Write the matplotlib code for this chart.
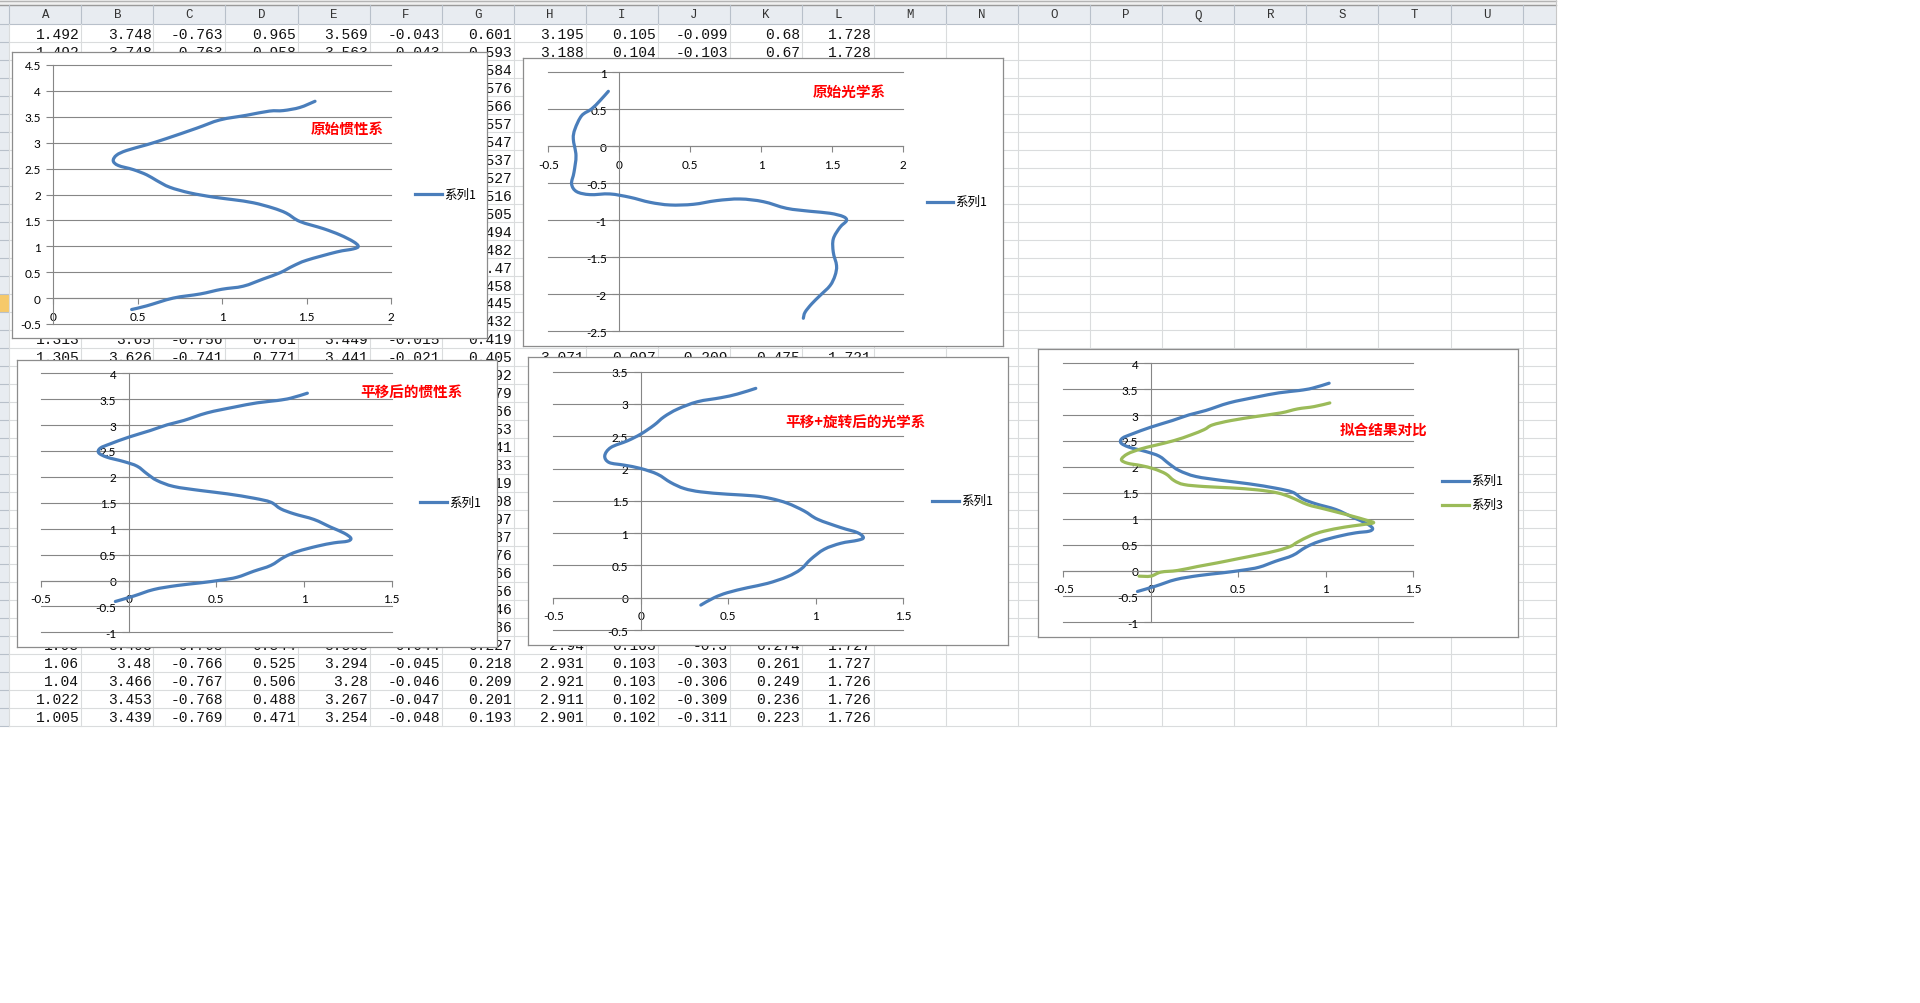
import numpy as np
import matplotlib
matplotlib.use('Agg')
import matplotlib.pyplot as plt
from matplotlib.path import Path
from matplotlib.patches import PathPatch

W, H = 1920, 1004
fig = plt.figure(figsize=(W / 100, H / 100), dpi=100)

# ---------------- sheet contents ----------------
col_letters = list("ABCDEFGHIJKLMNOPQRSTUV")

row_01 = ["1.492", "3.748", "-0.763", "0.965", "3.569", "-0.043", "0.601", "3.195", "0.105", "-0.099", "0.68", "1.728"]
row_02 = ["1.492", "3.748", "-0.763", "0.958", "3.563", "-0.043", "0.593", "3.188", "0.104", "-0.103", "0.67", "1.728"]
row_18 = ["1.313", "3.65", "-0.756", "0.781", "3.449", "-0.015", "0.419"]
row_19 = ["1.305", "3.626", "-0.741", "0.771", "3.441", "-0.021", "0.405", "3.071", "0.097", "-0.209", "0.475", "1.721"]
row_35 = ["1.08", "3.493", "-0.765", "0.544", "3.308", "-0.044", "0.227", "2.94", "0.103", "-0.3", "0.274", "1.727"]
row_36 = ["1.06", "3.48", "-0.766", "0.525", "3.294", "-0.045", "0.218", "2.931", "0.103", "-0.303", "0.261", "1.727"]
row_37 = ["1.04", "3.466", "-0.767", "0.506", "3.28", "-0.046", "0.209", "2.921", "0.103", "-0.306", "0.249", "1.726"]
row_38 = ["1.022", "3.453", "-0.768", "0.488", "3.267", "-0.047", "0.201", "2.911", "0.102", "-0.309", "0.236", "1.726"]
row_39 = ["1.005", "3.439", "-0.769", "0.471", "3.254", "-0.048", "0.193", "2.901", "0.102", "-0.311", "0.223", "1.726"]
# column G, rows 3-17 and 20-34 (the rest of those rows sits under the charts)
col_g_03_17 = ["0.584", "0.576", "0.566", "0.557", "0.547", "0.537", "0.527", "0.516",
               "0.505", "0.494", "0.482", "0.47", "0.458", "0.445", "0.432"]
col_g_20_34 = ["0.392", "0.379", "0.366", "0.353", "0.341", "0.333", "0.319", "0.308",
               "0.297", "0.287", "0.276", "0.266", "0.256", "0.246", "0.236"]

# ---------------- chart series ----------------
# 原始惯性系
c1_x = [0.464, 0.553, 0.71, 0.87, 0.997, 1.125, 1.244, 1.343, 1.42, 1.5, 1.678, 1.777, 1.806, 1.777,
        1.698, 1.6, 1.46, 1.38, 1.30, 1.185, 1.066, 0.948, 0.81, 0.69, 0.612, 0.553, 0.474, 0.385,
        0.355, 0.375, 0.434, 0.553, 0.67, 0.849, 0.987, 1.145, 1.28, 1.362, 1.46, 1.55]
c1_y = [-0.22, -0.15, 0.0, 0.08, 0.17, 0.23, 0.37, 0.49, 0.62, 0.73, 0.89, 0.95, 1.0, 1.09,
        1.22, 1.34, 1.48, 1.64, 1.74, 1.84, 1.90, 1.95, 2.03, 2.14, 2.27, 2.38, 2.48, 2.56,
        2.65, 2.76, 2.85, 2.96, 3.08, 3.28, 3.44, 3.53, 3.61, 3.62, 3.68, 3.80]

# 原始光学系
c2_x = [-0.077, -0.136, -0.195, -0.265, -0.312, -0.324, -0.305, -0.319, -0.336, -0.30, -0.207,
        -0.066, 0.075, 0.216, 0.357, 0.521, 0.685, 0.85, 1.014, 1.178, 1.343, 1.484, 1.577, 1.60,
        1.554, 1.507, 1.507, 1.53, 1.519, 1.484, 1.413, 1.354, 1.308, 1.296]
c2_y = [0.743, 0.617, 0.505, 0.414, 0.234, 0.099, -0.126, -0.351, -0.509, -0.613, -0.653,
        -0.644, -0.689, -0.757, -0.793, -0.784, -0.734, -0.712, -0.748, -0.838, -0.878, -0.905,
        -0.95, -1.005, -1.095, -1.252, -1.432, -1.613, -1.748, -1.883, -2.018, -2.131, -2.243, -2.324]

# 平移后的惯性系 (also 系列1 of 拟合结果对比)
c3_x = [-0.076, 0.029, 0.143, 0.276, 0.41, 0.524, 0.619, 0.714, 0.81, 0.886, 0.962, 1.076, 1.171,
        1.248, 1.267, 1.229, 1.152, 1.057, 0.943, 0.867, 0.81, 0.714, 0.562, 0.41, 0.257, 0.162,
        0.105, 0.048, -0.029, -0.124, -0.171, -0.162, -0.105, 0.0, 0.124, 0.219, 0.314, 0.448,
        0.60, 0.733, 0.848, 0.924, 1.019]
c3_y = [-0.405, -0.30, -0.174, -0.097, -0.045, 0.006, 0.064, 0.18, 0.29, 0.45, 0.56, 0.663, 0.727,
        0.759, 0.817, 0.914, 1.03, 1.178, 1.287, 1.384, 1.512, 1.589, 1.673, 1.737, 1.815, 1.93,
        2.059, 2.207, 2.297, 2.381, 2.465, 2.555, 2.638, 2.767, 2.896, 3.005, 3.089, 3.237,
        3.346, 3.43, 3.475, 3.52, 3.616]

# 平移+旋转后的光学系
c4_x = [0.343, 0.419, 0.495, 0.61, 0.724, 0.838, 0.914, 0.971, 1.048, 1.143, 1.238, 1.272, 1.238,
        1.143, 1.01, 0.933, 0.838, 0.743, 0.648, 0.495, 0.343, 0.248, 0.171, 0.095, 0.0, -0.095,
        -0.181, -0.206, -0.171, -0.076, 0.0, 0.076, 0.133, 0.21, 0.324, 0.457, 0.552, 0.657]
c4_y = [-0.114, 0.0, 0.078, 0.155, 0.222, 0.326, 0.44, 0.595, 0.75, 0.843, 0.889, 0.93, 1.008,
        1.086, 1.215, 1.344, 1.463, 1.536, 1.577, 1.603, 1.639, 1.691, 1.784, 1.913, 2.001, 2.053,
        2.094, 2.198, 2.327, 2.43, 2.534, 2.673, 2.802, 2.921, 3.035, 3.097, 3.154, 3.242]

# 拟合结果对比 - 系列3
c5_x = [-0.067, 0.0, 0.057, 0.152, 0.267, 0.381, 0.495, 0.61, 0.724, 0.80, 0.838, 0.914, 0.99,
        1.105, 1.20, 1.272, 1.238, 1.124, 0.99, 0.895, 0.80, 0.724, 0.61, 0.457, 0.305, 0.19,
        0.133, 0.086, 0.019, -0.057, -0.133, -0.168, -0.133, -0.057, 0.019, 0.133, 0.229, 0.305,
        0.352, 0.457, 0.61, 0.743, 0.838, 0.933, 1.023]
c5_y = [-0.109, -0.109, -0.032, 0.0, 0.077, 0.148, 0.225, 0.302, 0.386, 0.469, 0.547, 0.675, 0.759,
        0.836, 0.881, 0.92, 0.965, 1.074, 1.19, 1.273, 1.415, 1.498, 1.556, 1.595, 1.621, 1.659,
        1.736, 1.865, 1.961, 2.026, 2.071, 2.14, 2.251, 2.347, 2.412, 2.508, 2.617, 2.72, 2.81,
        2.894, 2.977, 3.042, 3.119, 3.164, 3.235]

BLUE = '#4A7EBB'
GREEN = '#9BBB59'
GRID = '#868686'
CELL_LINE = '#DADCDD'

# ---------------- sheet background ----------------
bg = fig.add_axes([0, 0, 1, 1])
bg.set_xlim(0, W)
bg.set_ylim(H, 0)
bg.axis('off')

row_h = 17.98
top = 25.3
col_w = 72.06
left = 9.3
sheet_r = 1556
n_rows = 39
sheet_b = top + n_rows * row_h

bg.fill_between([0, sheet_r], 0, 6, color='#F0F0F0', lw=0)
bg.plot([0, sheet_r], [1.5, 1.5], color='#B4B4B4', lw=1)
bg.plot([0, sheet_r], [5.5, 5.5], color='#9A9A9A', lw=1)
bg.fill_between([0, sheet_r], 6, top, color='#E8ECF1', lw=0)
bg.fill_between([0, left], top, sheet_b, color='#E8ECF1', lw=0)
bg.fill_between([0, left], top + 15 * row_h, top + 16 * row_h, color='#F6C96A', lw=0)

for k in range(1, n_rows + 1):
    y = top + k * row_h
    bg.plot([0, left], [y, y], color='#B8C0CA', lw=0.8)
    bg.plot([left, sheet_r], [y, y], color=CELL_LINE, lw=0.8)
bg.plot([0, sheet_r], [top, top], color='#B8C0CA', lw=0.8)
for k, letter in enumerate(col_letters):
    x = left + k * col_w
    bg.plot([x, x], [6, top], color='#B8C0CA', lw=0.8)
    bg.plot([x, x], [top, sheet_b], color=CELL_LINE, lw=0.8)
    if x + col_w / 2 < sheet_r:
        bg.text(x + col_w / 2, 15.5, letter, ha='center', va='center', fontsize=9,
                family='Liberation Mono', color='#333333')
bg.plot([sheet_r, sheet_r], [0, sheet_b], color='#C8C8C8', lw=0.8)

def put_row(row_no, values, first_col=0):
    y = top + (row_no - 0.5) * row_h + 0.5
    for j, v in enumerate(values):
        xr = left + (first_col + j + 1) * col_w - 2
        bg.text(xr, y, v, ha='right', va='center', fontsize=10.5,
                family='Liberation Mono', color='#111111')

for r, vals in [(1, row_01), (2, row_02), (18, row_18), (19, row_19), (35, row_35),
                (36, row_36), (37, row_37), (38, row_38), (39, row_39)]:
    put_row(r, vals)
for i, v in enumerate(col_g_03_17):
    put_row(3 + i, [v], first_col=6)
for i, v in enumerate(col_g_20_34):
    put_row(20 + i, [v], first_col=6)

# ---------------- charts ----------------
def px_box(x0, y0, x1, y1):
    return [x0 / W, 1 - y1 / H, (x1 - x0) / W, (y1 - y0) / H]

def fmt(v):
    return '%g' % round(v, 3)

def smooth_path(xs, ys):
    # Excel style "smoothed line": Catmull-Rom segments as cubic Beziers
    p = np.column_stack([xs, ys])
    ext = np.vstack([p[0], p, p[-1]])
    verts = [p[0]]
    codes = [Path.MOVETO]
    for i in range(len(p) - 1):
        p0, p1, p2, p3 = ext[i], ext[i + 1], ext[i + 2], ext[i + 3]
        verts += [p1 + (p2 - p0) / 6, p2 - (p3 - p1) / 6, p2]
        codes += [Path.CURVE4] * 3
    return Path(verts, codes)

def chart(frame, plot, xlim, ylim, lines, names, legend_x, legend_y, title, title_xy):
    fr = fig.add_axes(px_box(*frame))
    fr.set_xlim(frame[0], frame[2])
    fr.set_ylim(frame[3], frame[1])
    fr.set_xticks([])
    fr.set_yticks([])
    fr.set_facecolor('white')
    for s in fr.spines.values():
        s.set_color('#8C8C8C')
        s.set_linewidth(0.9)

    ax = fig.add_axes(px_box(*plot))
    ax.patch.set_visible(False)
    ax.set_xlim(*xlim)
    ax.set_ylim(*ylim)
    xt = np.arange(xlim[0], xlim[1] + 1e-9, 0.5)
    yt = np.arange(ylim[0], ylim[1] + 1e-9, 0.5)
    ax.set_xticks(xt)
    ax.set_xticklabels([fmt(v) for v in xt])
    ax.set_yticks(yt)
    ax.set_yticklabels([fmt(v) for v in yt])
    ax.spines['top'].set_visible(False)
    ax.spines['right'].set_visible(False)
    ax.spines['left'].set_position(('data', 0))
    ax.spines['bottom'].set_position(('data', 0))
    for s in ('left', 'bottom'):
        ax.spines[s].set_color(GRID)
        ax.spines[s].set_linewidth(0.8)
    ax.grid(axis='y', color=GRID, lw=0.8)
    for gl in ax.get_ygridlines():
        gl.set_clip_on(False)
    ax.tick_params(axis='x', direction='out', length=4, width=0.8, color=GRID, pad=5,
                   labelsize=8.5, labelcolor='black')
    ax.tick_params(axis='y', direction='out', length=5, width=0.8, color=GRID, pad=4,
                   labelsize=8.5, labelcolor='black')
    for lab in ax.get_xticklabels() + ax.get_yticklabels():
        lab.set_family('Lato')

    for (xs, ys, color), name, ly in zip(lines, names, legend_y):
        ax.add_patch(PathPatch(smooth_path(xs, ys), fill=False, edgecolor=color, lw=2.3,
                               capstyle='round', joinstyle='round', clip_on=False, zorder=3))
        fr.plot(legend_x, [ly, ly], color=color, lw=2.3)
        fig.text((legend_x[1] + 2) / W, 1 - ly / H, name, ha='left', va='center',
                 fontsize=9, family=['Noto Sans CJK SC', 'DejaVu Sans'])

    fig.text(title_xy[0] / W, 1 - title_xy[1] / H, title, ha='left', va='center',
             fontsize=10.5, fontweight='bold', color='#FF0000',
             family=['Noto Sans CJK SC', 'DejaVu Sans'])

chart((12, 53, 487, 339), (53.3, 66, 391, 325), (0, 2), (-0.5, 4.5),
      [(c1_x, c1_y, BLUE)], ['系列1'], (415, 442), [195], '原始惯性系', (311, 129))
chart((523, 59, 1003, 347), (548.3, 73.3, 903.3, 332.3), (-0.5, 2), (-2.5, 1),
      [(c2_x, c2_y, BLUE)], ['系列1'], (927, 953), [202.7], '原始光学系', (813, 92.3))
chart((16.7, 360.7, 496.7, 648.3), (41, 374.3, 391.7, 633.3), (-0.5, 1.5), (-1, 4),
      [(c3_x, c3_y, BLUE)], ['系列1'], (420, 447), [503.3], '平移后的惯性系', (360, 391.7))
chart((528.3, 358.3, 1008.3, 646), (553.3, 372.7, 903.3, 631), (-0.5, 1.5), (-0.5, 3.5),
      [(c4_x, c4_y, BLUE)], ['系列1'], (931.7, 959.3), [501.7], '平移+旋转后的光学系', (785, 422.3))
chart((1038.3, 350, 1518.3, 638.3), (1063.3, 364.3, 1413.3, 623.3), (-0.5, 1.5), (-1, 4),
      [(c3_x, c3_y, BLUE), (c5_x, c5_y, GREEN)], ['系列1', '系列3'], (1441.7, 1469.3),
      [481.7, 505.7], '拟合结果对比', (1340, 429.3))

fig.savefig('out.png', dpi=100, facecolor='white')
